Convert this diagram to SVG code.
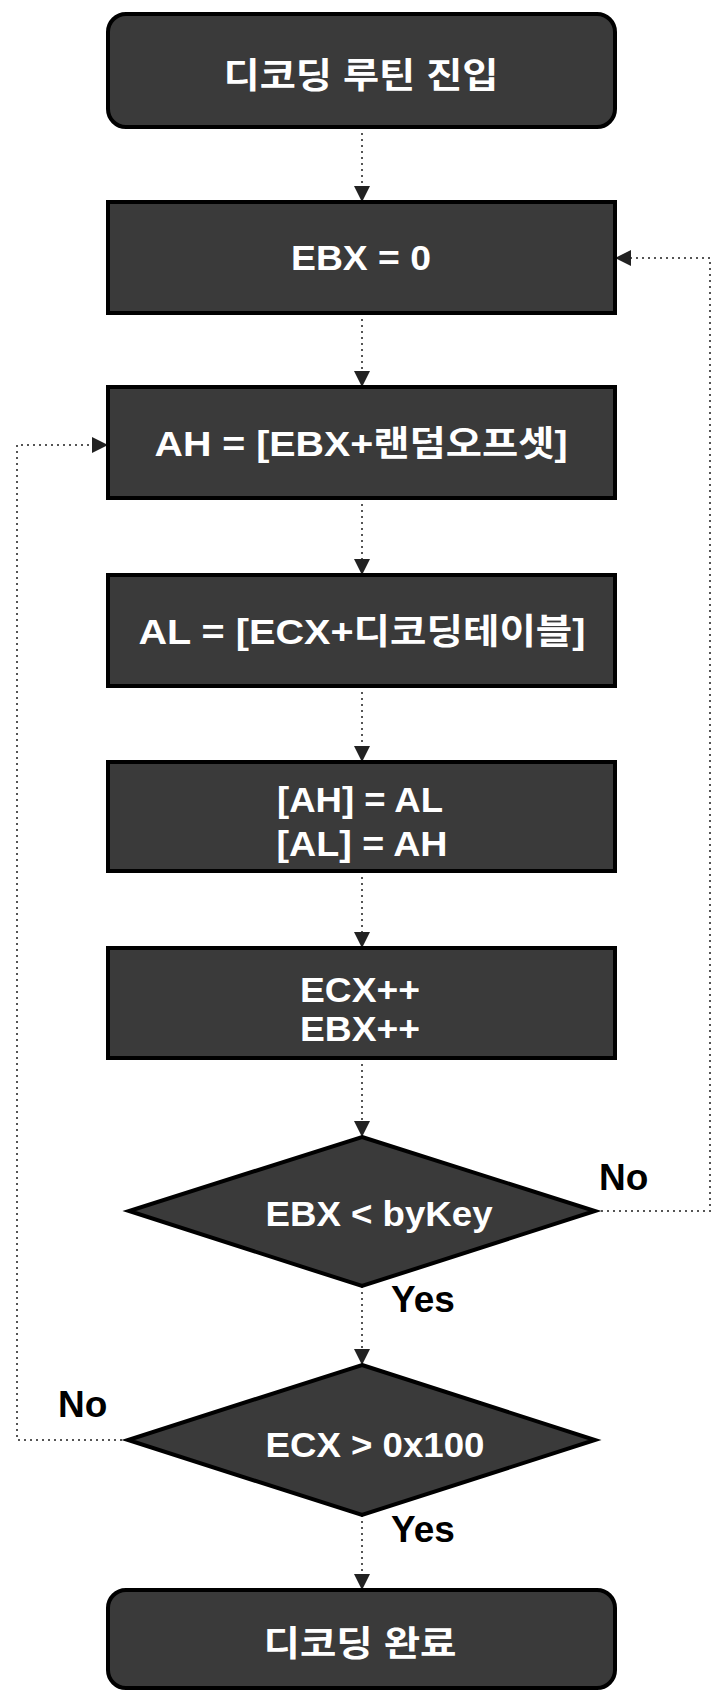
<svg xmlns="http://www.w3.org/2000/svg" width="712" height="1695" viewBox="0 0 712 1695">
<style>
.node{fill:#3a3a3a;stroke:#000;stroke-width:4}
.t{fill:#fff;font-family:"Liberation Sans","Noto Sans CJK KR",sans-serif;font-weight:bold;font-size:35px;text-anchor:middle;dominant-baseline:central}
.lbl{fill:#000;font-family:"Liberation Sans","Noto Sans CJK KR",sans-serif;font-weight:bold;font-size:37px}
.c{fill:none;stroke:#555;stroke-width:2;stroke-dasharray:2 4}
</style>
<defs>
<marker id="ah2" viewBox="0 0 10 10" refX="10" refY="5" markerWidth="16" markerHeight="16" markerUnits="userSpaceOnUse" orient="auto">
<path d="M0,0 L10,5 L0,10 Z" fill="#222"/>
</marker>
</defs>
<g id="connectors">
<path class="c" d="M362,127 V202" marker-end="url(#ah2)"/>
<path class="c" d="M362,313 V387" marker-end="url(#ah2)"/>
<path class="c" d="M362,498 V575" marker-end="url(#ah2)"/>
<path class="c" d="M362,686 V762" marker-end="url(#ah2)"/>
<path class="c" d="M362,871 V948" marker-end="url(#ah2)"/>
<path class="c" d="M362,1058 V1137" marker-end="url(#ah2)"/>
<path class="c" d="M362,1286 V1365" marker-end="url(#ah2)"/>
<path class="c" d="M362,1515 V1590" marker-end="url(#ah2)"/>
<path class="c" d="M595,1211 H710 V258 H615" marker-end="url(#ah2)"/>
<path class="c" d="M128,1440 H17 V445 H108" marker-end="url(#ah2)"/>
<text class="lbl" x="599" y="1190">No</text>
<text class="lbl" x="58" y="1417">No</text>
<text class="lbl" x="391" y="1312">Yes</text>
<text class="lbl" x="391" y="1542">Yes</text>
</g>
<g id="n1"><rect class="node" x="108" y="14" width="507" height="113" rx="18"/><text class="t" x="361" y="75" textLength="275" lengthAdjust="spacingAndGlyphs">디코딩 루틴 진입</text></g>
<g id="n2"><rect class="node" x="108" y="202" width="507" height="111"/><text class="t" x="361" y="257" textLength="140" lengthAdjust="spacingAndGlyphs">EBX = 0</text></g>
<g id="n3"><rect class="node" x="108" y="387" width="507" height="111"/><text class="t" x="361" y="443" textLength="413" lengthAdjust="spacingAndGlyphs">AH = [EBX+랜덤오프셋]</text></g>
<g id="n4"><rect class="node" x="108" y="575" width="507" height="111"/><text class="t" x="362" y="631" textLength="447" lengthAdjust="spacingAndGlyphs">AL = [ECX+디코딩테이블]</text></g>
<g id="n5"><rect class="node" x="108" y="762" width="507" height="109"/><text class="t" x="360" y="799" textLength="166" lengthAdjust="spacingAndGlyphs">[AH] = AL</text><text class="t" x="362" y="843" textLength="171" lengthAdjust="spacingAndGlyphs">[AL] = AH</text></g>
<g id="n6"><rect class="node" x="108" y="948" width="507" height="110"/><text class="t" x="360" y="989" textLength="120" lengthAdjust="spacingAndGlyphs">ECX++</text><text class="t" x="360" y="1028" textLength="120" lengthAdjust="spacingAndGlyphs">EBX++</text></g>
<g id="d1"><polygon class="node" points="362,1137 595,1211 362,1286 129,1211"/><text class="t" x="379" y="1213" textLength="227" lengthAdjust="spacingAndGlyphs">EBX &lt; byKey</text></g>
<g id="d2"><polygon class="node" points="362,1365 595,1440 362,1515 128,1440"/><text class="t" x="375" y="1444" textLength="219" lengthAdjust="spacingAndGlyphs">ECX &gt; 0x100</text></g>
<g id="n7"><rect class="node" x="108" y="1590" width="507" height="98" rx="18"/><text class="t" x="360" y="1643" textLength="193" lengthAdjust="spacingAndGlyphs">디코딩 완료</text></g>
</svg>
